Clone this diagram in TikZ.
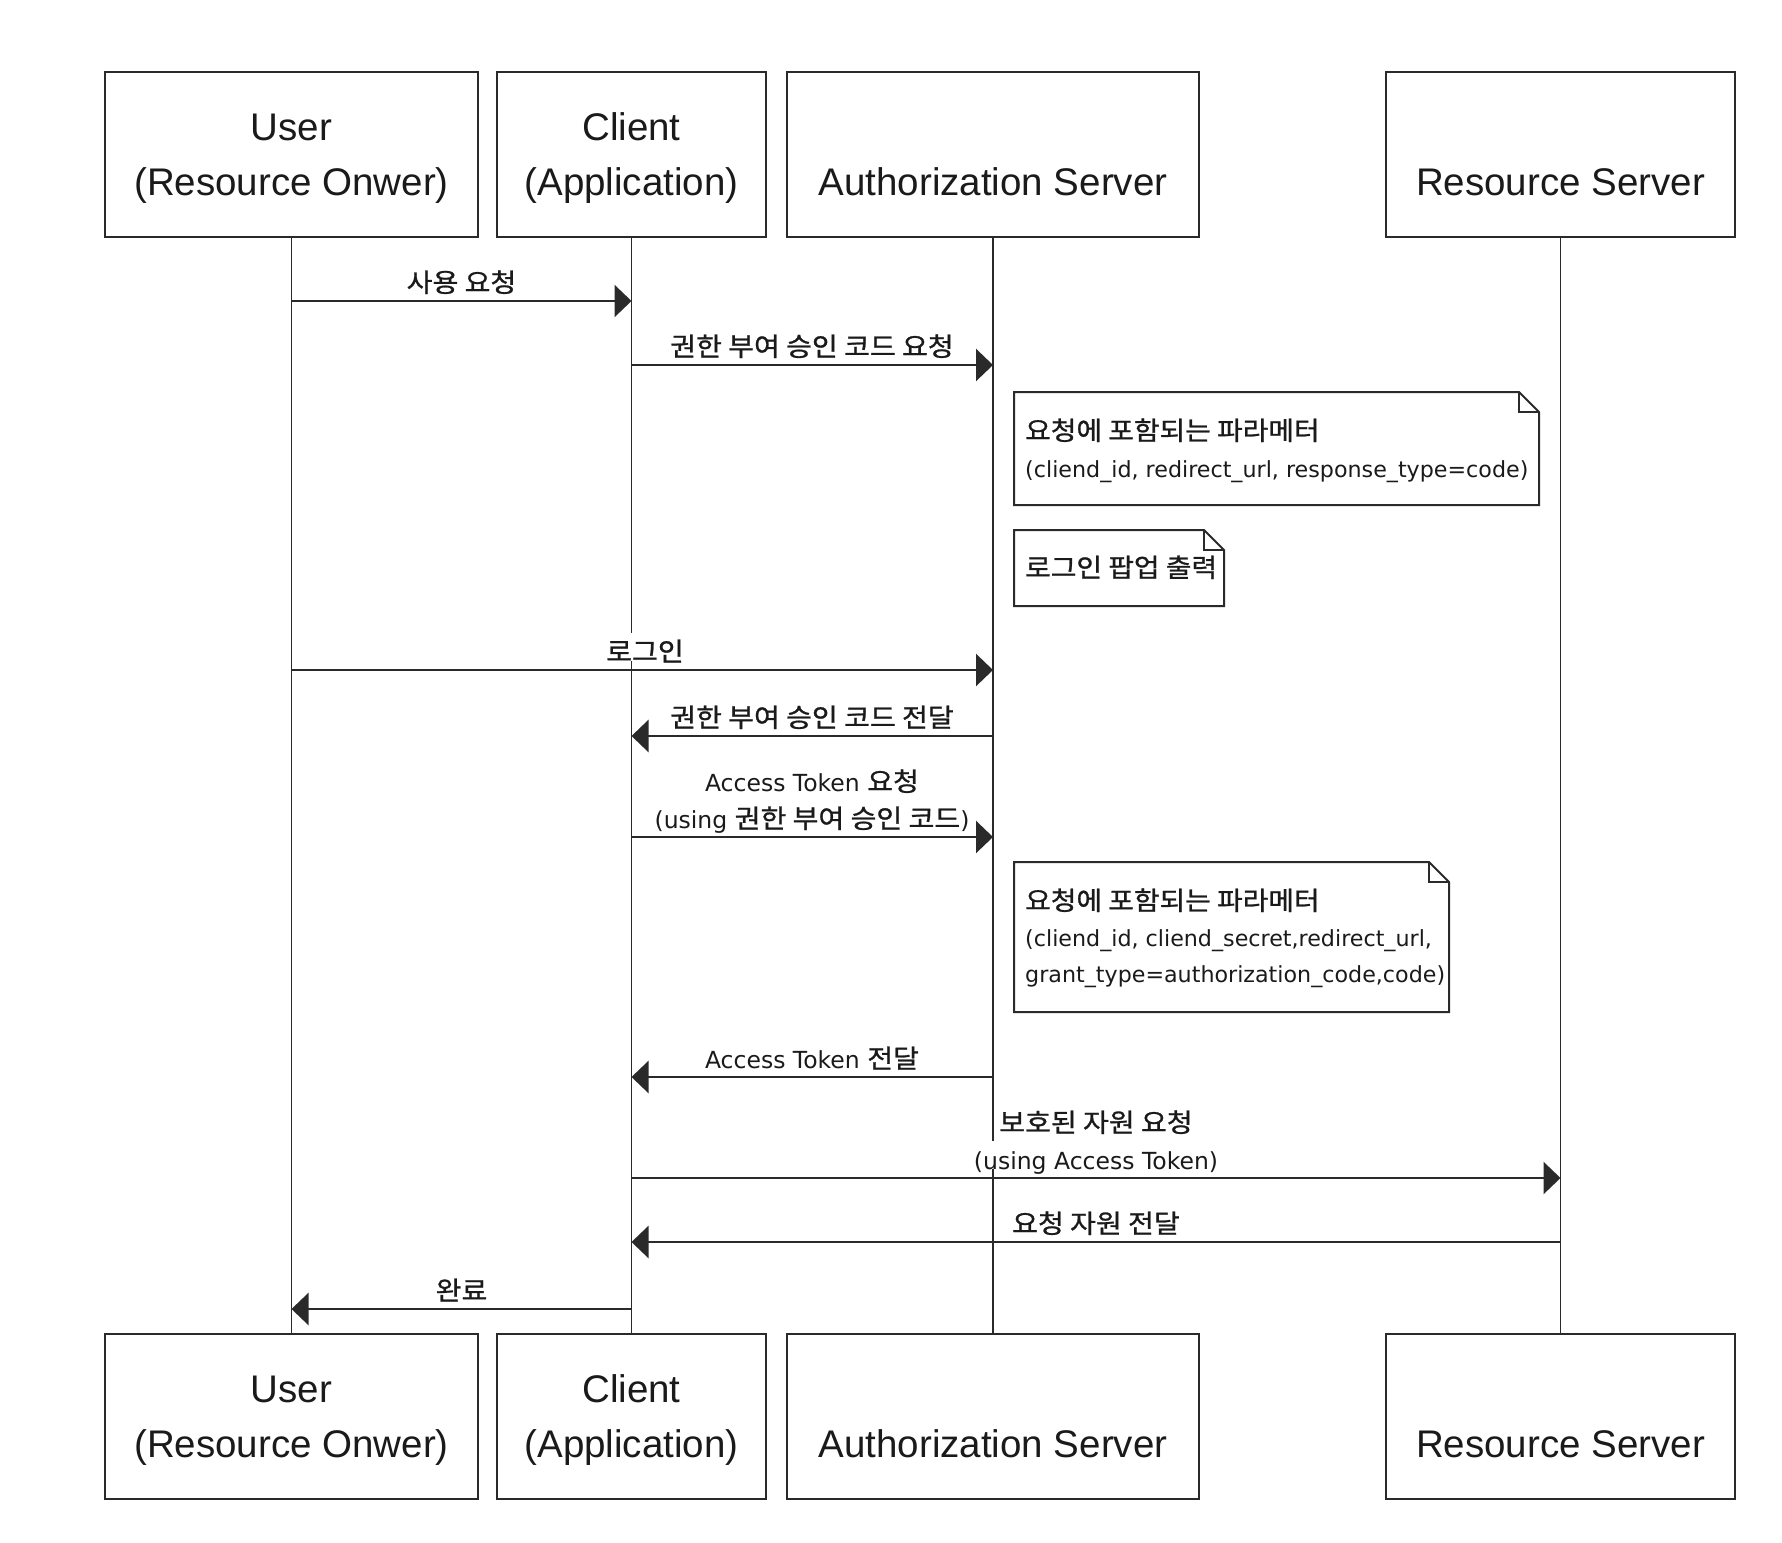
\documentclass[tikz,border=0pt]{standalone}
\usepackage{fontspec}
\setmainfont{Liberation Sans}
\newfontfamily\lblfont{DejaVu Sans}
\newfontfamily\krfont[FakeStretch=1.08,FakeBold=1]{Noto Sans CJK KR}
\usetikzlibrary{arrows.meta,calc}
\newcommand\K[1]{{\krfont\fontsize{26}{30}\selectfont #1}}
\newcommand\KN[1]{{\krfont\fontsize{25.8}{30}\selectfont #1}}
\definecolor{ink}{HTML}{1A1A1A}
\definecolor{linec}{HTML}{2A2A2A}
\begin{document}
\begin{tikzpicture}[x=1pt,y=-1pt,
  actor/.style={draw=linec,line width=2pt,minimum width=#1,minimum height=165pt,inner sep=0pt,fill=white},
  boxtxt/.style={font=\fontsize{38.5}{46}\selectfont,anchor=base,inner sep=0pt,text=ink},
  life/.style={draw=linec,line width=1.7pt},
  msg/.style={draw=linec,line width=2.5pt,-{Triangle[length=17pt,width=32pt]}},
  lbl/.style={font=\lblfont\fontsize{23.5}{27}\selectfont,anchor=base,inner sep=0pt,text=ink},
  lblw/.style={lbl,fill=white,text height=28pt,text depth=0pt,inner xsep=2pt},
  notebox/.style={draw=linec,line width=2pt,fill=white,line join=miter},
  notetxt/.style={font=\lblfont\fontsize{22.2}{27}\selectfont,anchor=base west,inner sep=0pt,text=ink}
]
\useasboundingbox (0,0) rectangle (1782,1542);

% actor boxes (top)
\node[actor=373pt] (uT) at (291.5,154.5) {};
\node[actor=269pt] (cT) at (631.5,154.5) {};
\node[actor=412pt] (aT) at (993,154.5) {};
\node[actor=349pt] (rT) at (1560.5,154.5) {};
% actor boxes (bottom)
\node[actor=373pt] (uB) at (291.5,1416.5) {};
\node[actor=269pt] (cB) at (631.5,1416.5) {};
\node[actor=412pt] (aB) at (993,1416.5) {};
\node[actor=349pt] (rB) at (1560.5,1416.5) {};

% actor texts
\node[boxtxt] (uT1) at (291.5,140) {User};
\node[boxtxt] (uT2) at (291.5,195) {(Resource Onwer)};
\node[boxtxt] (cT1) at (631.5,140) {Client};
\node[boxtxt] (cT2) at (631.5,195) {(Application)};
\node[boxtxt] (aT1) at (993,195) {Authorization Server};
\node[boxtxt] (rT1) at (1560.5,195) {Resource Server};
\node[boxtxt] (uB1) at (291.5,1402) {User};
\node[boxtxt] (uB2) at (291.5,1457) {(Resource Onwer)};
\node[boxtxt] (cB1) at (631.5,1402) {Client};
\node[boxtxt] (cB2) at (631.5,1457) {(Application)};
\node[boxtxt] (aB1) at (993,1457) {Authorization Server};
\node[boxtxt] (rB1) at (1560.5,1457) {Resource Server};

% lifelines
\draw[life] (uT.south) -- (uB.north);
\draw[life] (cT.south) -- (cB.north);
\draw[life] (aT.south) -- (aB.north);
\draw[life] (rT.south) -- (rB.north);

% notes
\draw[notebox] (1014,392) -- (1519,392) -- (1539,412) -- (1539,505) -- (1014,505) -- cycle;
\draw[notebox,fill=none] (1519,392) -- (1519,412) -- (1539,412);
\node[notetxt] (n1a) at (1025,440) {\KN{요청에 포함되는 파라메터}};
\node[notetxt] (n1b) at (1025,477) {(cliend\_id, redirect\_url, response\_type=code)};

\draw[notebox] (1014,530) -- (1204,530) -- (1224,550) -- (1224,606) -- (1014,606) -- cycle;
\draw[notebox,fill=none] (1204,530) -- (1204,550) -- (1224,550);
\node[notetxt] (n2a) at (1025,577) {\KN{로그인 팝업 출력}};

\draw[notebox] (1014,862) -- (1429,862) -- (1449,882) -- (1449,1012) -- (1014,1012) -- cycle;
\draw[notebox,fill=none] (1429,862) -- (1429,882) -- (1449,882);
\node[notetxt] (n3a) at (1025,910) {\KN{요청에 포함되는 파라메터}};
\node[notetxt] (n3b) at (1025,946) {(cliend\_id, cliend\_secret,redirect\_url,};
\node[notetxt] (n3c) at (1025,982) {grant\_type=authorization\_code,code)};

% message rows
\coordinate (y1) at (0,301);
\coordinate (y2) at (0,365);
\coordinate (y5) at (0,670);
\coordinate (y6) at (0,736);
\coordinate (y7) at (0,837);
\coordinate (y9) at (0,1077);
\coordinate (y10) at (0,1178);
\coordinate (y11) at (0,1242);
\coordinate (y12) at (0,1309);

\draw[msg] (uT.south |- y1) -- (cT.south |- y1);
\draw[msg] (cT.south |- y2) -- (aT.south |- y2);
\draw[msg] (uT.south |- y5) -- (aT.south |- y5);
\draw[msg] (aT.south |- y6) -- (cT.south |- y6);
\draw[msg] (cT.south |- y7) -- (aT.south |- y7);
\draw[msg] (aT.south |- y9) -- (cT.south |- y9);
\draw[msg] (cT.south |- y10) -- (rT.south |- y10);
\draw[msg] (rT.south |- y11) -- (cT.south |- y11);
\draw[msg] (cT.south |- y12) -- (uT.south |- y12);

% labels
\node[lbl] (l1) at (461.5,292) {\K{사용 요청}};
\node[lbl] (l2) at (812,356) {\K{권한 부여 승인 코드 요청}};
\node[lblw] (l5) at (645,661) {\K{로그인}};
\node[lbl] (l6) at (812,727) {\K{권한 부여 승인 코드 전달}};
\node[lbl] (l7a) at (812,791) {Access Token \K{요청}};
\node[lbl] (l7b) at (812,828) {(using \K{권한 부여 승인 코드})};
\node[lbl] (l9) at (812,1068) {Access Token \K{전달}};
\node[lbl] (l10a) at (1096,1132) {\K{보호된 자원 요청}};
\node[lblw] (l10b) at (1096,1169) {(using Access Token)};
\node[lbl] (l11) at (1096,1233) {\K{요청 자원 전달}};
\node[lbl] (l12) at (461.5,1300) {\K{완료}};
\end{tikzpicture}
\end{document}
